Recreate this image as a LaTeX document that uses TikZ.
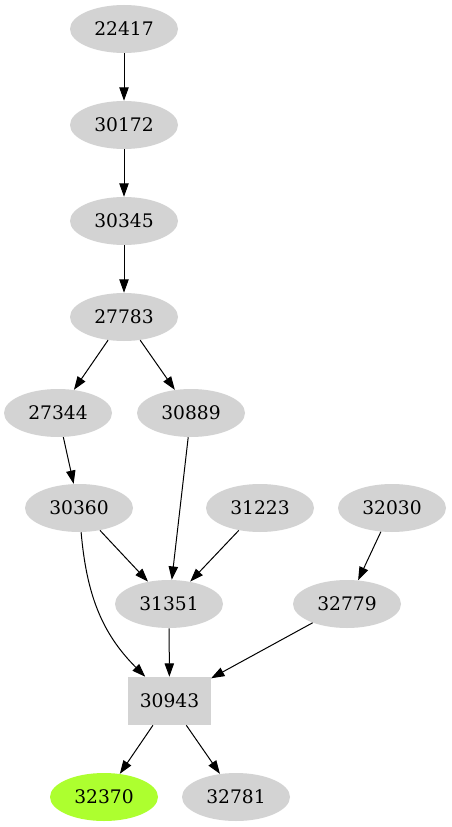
\documentclass[tikz,border=0pt]{standalone}
\usepackage{fontspec}
\setmainfont{DejaVu Serif}
\usetikzlibrary{shapes.geometric}
\usetikzlibrary{arrows.meta}
\definecolor{nodegray}{HTML}{D3D3D3}
\definecolor{hitgreen}{HTML}{ADFF2F}
\tikzstyle{gvnode}=[ellipse,fill=nodegray,minimum width=81pt,minimum height=36pt,inner sep=0pt,font=\fontsize{14}{16}\selectfont]
\tikzstyle{gvbox}=[rectangle,fill=nodegray,minimum width=62pt,minimum height=36pt,inner sep=0pt,font=\fontsize{14}{16}\selectfont]
\tikzstyle{gvedge}=[-{Triangle[length=10pt,width=7pt]},line width=0.75pt]
\newcommand{\gnode}[4][gvnode]{% Syntax: [style] {label} {x} {y}, in pixels from the top left
    \node[#1] (n#2) at (#3,#4) {#2};
}

\begin{document}
\begin{tikzpicture}[x=0.75pt,y=-0.75pt]
	\useasboundingbox (0,0) rectangle (451,827);
	\gnode{22417}{124}{29}
	\gnode{30172}{124}{125}
	\gnode{30345}{124}{221}
	\gnode{27783}{124}{317}
	\gnode{27344}{58}{413}
	\gnode{30889}{191}{413}
	\gnode{30360}{79}{508}
	\gnode{31223}{260}{508}
	\gnode{32030}{392}{508}
	\gnode{31351}{169}{604}
	\gnode{32779}{347}{604}
	\gnode[gvbox]{30943}{169.5}{701}
	\gnode[gvnode,fill=hitgreen]{32370}{104}{797}
	\gnode{32781}{236}{797}
	% edges
	\draw[gvedge] (n22417) -- (n30172);
	\draw[gvedge] (n30172) -- (n30345);
	\draw[gvedge] (n30345) -- (n27783);
	\draw[gvedge] (n27783) -- (n27344);
	\draw[gvedge] (n27783) -- (n30889);
	\draw[gvedge] (n27344) -- (n30360);
	\draw[gvedge] (n30889) -- (n31351);
	\draw[gvedge] (n30360) -- (n31351);
	\draw[gvedge] (n31223) -- (n31351);
	\draw[gvedge] (n32030) -- (n32779);
	\draw[gvedge] (n30360) to[out=-85,in=135] (n30943);
	\draw[gvedge] (n31351) -- (n30943);
	\draw[gvedge] (n32779) -- (n30943);
	\draw[gvedge] (n30943) -- (n32370);
	\draw[gvedge] (n30943) -- (n32781);
\end{tikzpicture}
\end{document}
